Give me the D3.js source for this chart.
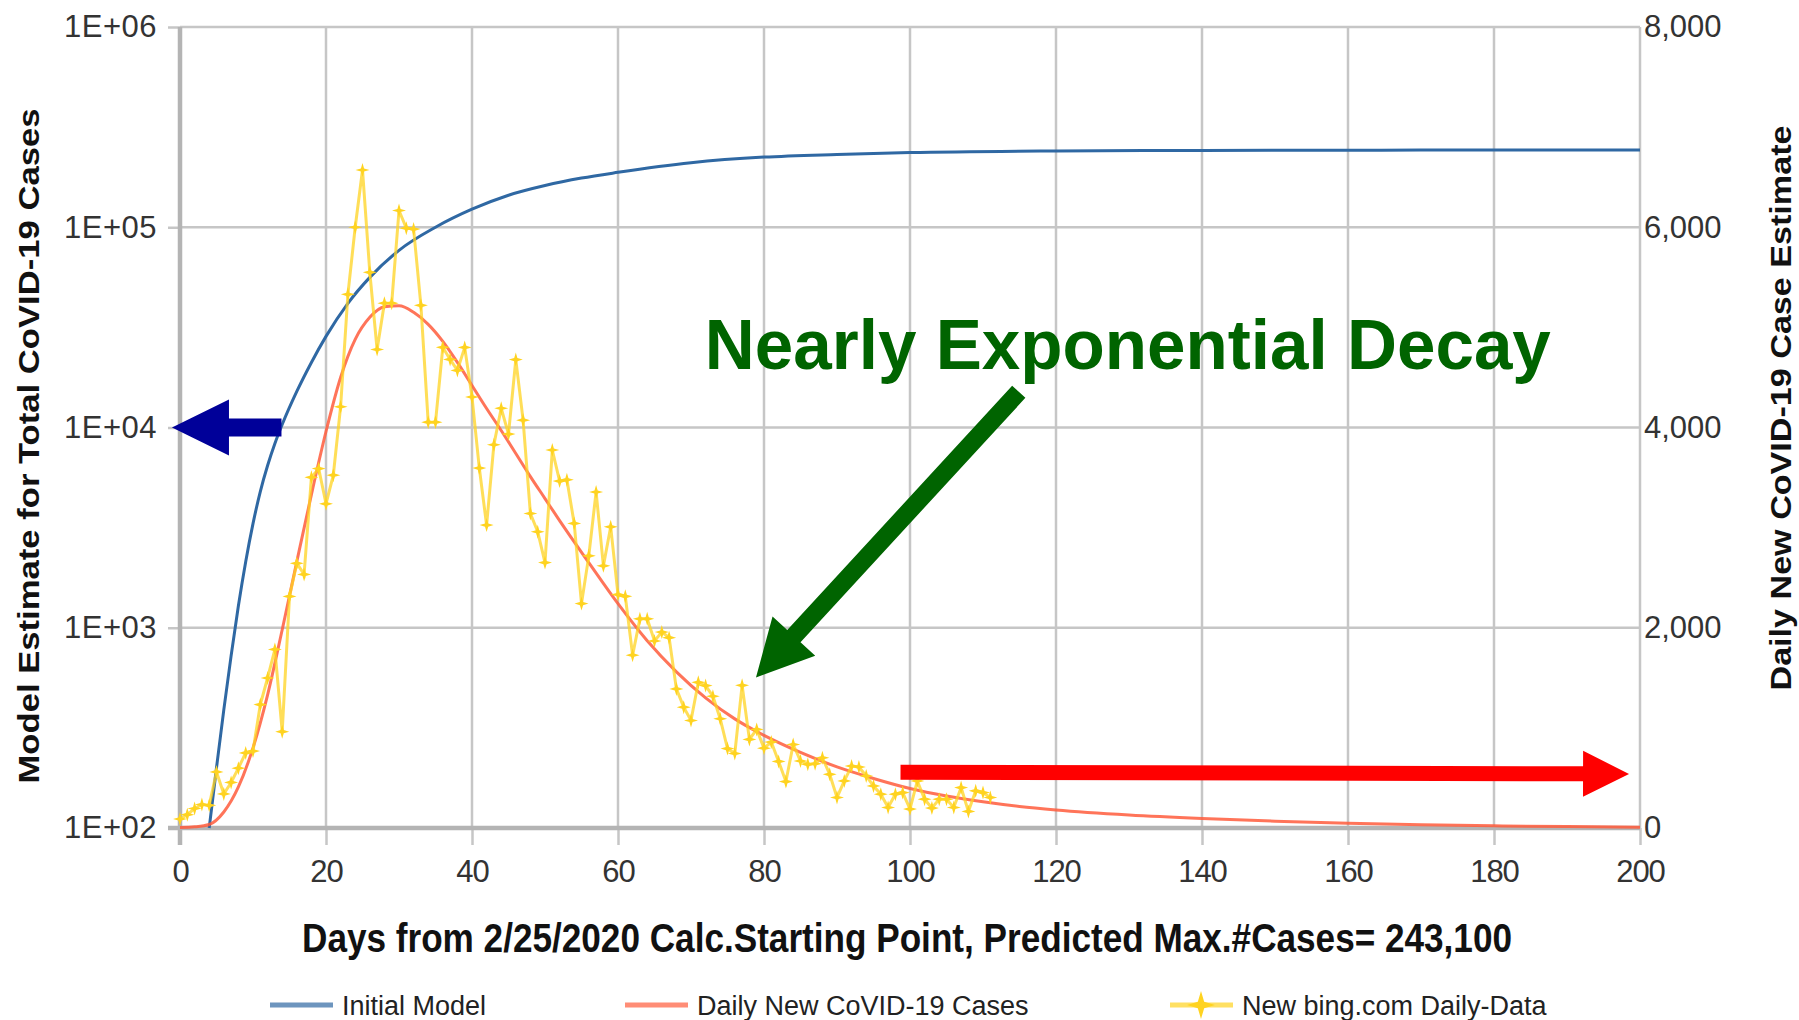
<!DOCTYPE html>
<html>
<head>
<meta charset="utf-8">
<script src="https://cdn.jsdelivr.net/npm/d3@7"></script>
<style>
  body { margin: 0; background: #fff; }
  text { font-family: 'Liberation Sans', Arial, sans-serif; }
</style>
</head>
<body>
<div id="wrapper"></div>
<script>
'use strict';

//#region DATA
// Initial model, cumulative cases (left, log axis)
const modelDays = [4, 5, 6, 7, 8, 9, 10, 11, 12, 13, 14, 16, 18, 20, 23, 26, 30, 35, 40, 45, 50, 55, 60, 70, 80, 90, 100, 120, 140, 170, 200];
const modelTotal = [100, 200, 389, 724, 1288, 2138, 3311, 4786, 6457, 8318, 10350, 15140, 21130, 28510, 41700, 56200, 76700, 100000, 123000, 144500, 161500, 176000, 188000, 210000, 224000, 231000, 236000, 240500, 242000, 242800, 243100];

// Daily new cases from the model (right axis)
const dailyDays = [0, 2, 4, 6, 8, 10, 12, 14, 16, 18, 20, 22, 24, 26, 28, 30, 32, 34, 36, 38, 40, 42, 44, 46, 48, 50, 52, 56, 60, 64, 68, 72, 76, 80, 85, 90, 95, 100, 105, 110, 115, 120, 130, 140, 150, 160, 170, 180, 190, 200];
const dailyModel = [5, 12, 35, 160, 410, 800, 1330, 1980, 2660, 3330, 3960, 4500, 4880, 5100, 5205, 5215, 5150, 5030, 4860, 4650, 4420, 4190, 3970, 3740, 3510, 3290, 3070, 2650, 2240, 1870, 1560, 1300, 1090, 925, 755, 610, 495, 395, 320, 262, 215, 180, 130, 95, 68, 48, 33, 22, 14, 8];

// New bing.com daily data, one value per day starting at day 0 (right axis)
const bingDaily = [
  90, 133, 195, 235, 226, 560, 340, 455, 598, 750,
  768, 1233, 1498, 1784, 962, 2313, 2643, 2533, 3502, 3590,
  3238, 3524, 4207, 5330, 6000, 6572, 5550, 4779, 5242, 5242,
  6167, 5991, 5982, 5220, 4053, 4053, 4801, 4680, 4570, 4800,
  4305, 3595, 3025, 3828, 4192, 3934, 4678, 4073, 3141, 2959,
  2651, 3775, 3465, 3478, 3042, 2241, 2718, 3356, 2618, 3008,
  2331, 2314, 1726, 2089, 2089, 1868, 1957, 1901, 1389, 1207,
  1074, 1455, 1422, 1316, 1091, 793, 744, 1425, 885, 985,
  797, 858, 665, 464, 834, 669, 636, 642, 702, 536,
  305, 470, 619, 609, 520, 420, 338, 205, 338, 354,
  189, 470, 288, 199, 288, 288, 205, 404, 166, 371,
  354, 305
];

const dayTicks = [0, 20, 40, 60, 80, 100, 120, 140, 160, 180, 200];
const totalTicks = [1e2, 1e3, 1e4, 1e5, 1e6];
const dailyTicks = [0, 2000, 4000, 6000, 8000];

const seriesNames = ['Initial Model', 'Daily New CoVID-19 Cases', 'New bing.com Daily-Data'];
const xTitle = 'Days from 2/25/2020 Calc.Starting Point, Predicted Max.#Cases= 243,100';
const yLeftTitle = 'Model Estimate for Total CoVID-19 Cases';
const yRightTitle = 'Daily New CoVID-19 Case Estimate';
const noteText = 'Nearly Exponential Decay';
//#endregion DATA

//#region CHART DIMENSIONS
let dimensions = {
  width: 1799,
  height: 1020,
  margin: {top: 27, right: 159, bottom: 192, left: 180}
};
dimensions.plotWidth = dimensions.width - dimensions.margin.left - dimensions.margin.right;
dimensions.plotHeight = dimensions.height - dimensions.margin.top - dimensions.margin.bottom;

const colours = {
  model: '#2f68a3',
  daily: '#ff5c3c',
  bing: '#ffd320',
  grid: '#c6c6c6',
  axis: '#b4b4b4',
  label: '#333333'
};
//#endregion CHART DIMENSIONS

//#region DRAW CANVAS
const wrapper = d3.select('#wrapper')
  .append('svg')
  .attr('width', dimensions.width)
  .attr('height', dimensions.height)
  .style('background', '#fff');

const plot = wrapper.append('g')
  .attr('transform', `translate(${dimensions.margin.left}, ${dimensions.margin.top})`);
//#endregion DRAW CANVAS

//#region SCALES
const xScale = d3.scaleLinear()
  .domain([0, 200])
  .range([0, dimensions.plotWidth]);
const yLeftScale = d3.scaleLog()
  .domain([1e2, 1e6])
  .range([dimensions.plotHeight, 0]);
const yRightScale = d3.scaleLinear()
  .domain([0, 8000])
  .range([dimensions.plotHeight, 0]);
//#endregion SCALES

//#region GRID + AXES
const grid = plot.append('g');
grid.selectAll('.vgrid').data(dayTicks).join('line')
  .attr('x1', d => xScale(d)).attr('x2', d => xScale(d))
  .attr('y1', 0).attr('y2', dimensions.plotHeight)
  .attr('stroke', colours.grid).attr('stroke-width', 2.5);
grid.selectAll('.hgrid').data(dailyTicks).join('line')
  .attr('x1', 0).attr('x2', dimensions.plotWidth)
  .attr('y1', d => yRightScale(d)).attr('y2', d => yRightScale(d))
  .attr('stroke', colours.grid).attr('stroke-width', 2.5);

const xAxis = plot.append('g')
  .attr('transform', `translate(0, ${dimensions.plotHeight})`)
  .call(d3.axisBottom(xScale).tickValues(dayTicks).tickSize(17).tickPadding(15).tickSizeOuter(0));

const yLeftAxis = plot.append('g')
  .call(d3.axisLeft(yLeftScale)
    .tickValues(totalTicks)
    .tickFormat(d => `1E+0${Math.round(Math.log10(d))}`)
    .tickSize(12).tickPadding(11).tickSizeOuter(0));

const yRightAxis = plot.append('g')
  .attr('transform', `translate(${dimensions.plotWidth}, 0)`)
  .call(d3.axisRight(yRightScale).tickValues(dailyTicks).tickFormat(d3.format(',')).tickSize(0).tickPadding(4));

[xAxis, yLeftAxis, yRightAxis].forEach(axis => {
  axis.select('.domain').remove();
  axis.selectAll('.tick line').attr('stroke', colours.grid).attr('stroke-width', 2.5);
  axis.selectAll('.tick text')
    .attr('fill', colours.label)
    .style('font-size', '31px')
    .style('font-family', "'Liberation Sans', Arial, sans-serif");
});
xAxis.selectAll('.tick text').style('letter-spacing', '-1px');
yLeftAxis.selectAll('.tick text').style('letter-spacing', '0.5px');

// darker axis lines on the left and bottom
plot.append('line')
  .attr('x1', 0).attr('x2', 0)
  .attr('y1', 0).attr('y2', dimensions.plotHeight + 17)
  .attr('stroke', colours.axis).attr('stroke-width', 4.5);
plot.append('line')
  .attr('x1', -12).attr('x2', dimensions.plotWidth)
  .attr('y1', dimensions.plotHeight).attr('y2', dimensions.plotHeight)
  .attr('stroke', colours.axis).attr('stroke-width', 4.5);
//#endregion GRID + AXES

//#region DRAW DATA
const star4 = {
  draw (context, size) {
    const r = Math.sqrt(size);
    const ri = r * 0.32;
    for (let i = 0; i < 8; i++) {
      const a = i * Math.PI / 4 - Math.PI / 2;
      const rr = i % 2 === 0 ? r : ri;
      if (i === 0) context.moveTo(rr * Math.cos(a), rr * Math.sin(a));
      else context.lineTo(rr * Math.cos(a), rr * Math.sin(a));
    }
    context.closePath();
  }
};

const modelLine = d3.line()
  .x((d, i) => xScale(modelDays[i]))
  .y(d => yLeftScale(d))
  .curve(d3.curveMonotoneX);
plot.append('path')
  .attr('d', modelLine(modelTotal))
  .attr('fill', 'none')
  .attr('stroke', colours.model)
  .attr('stroke-width', 3);

const dailyLine = d3.line()
  .x((d, i) => xScale(dailyDays[i]))
  .y(d => yRightScale(d))
  .curve(d3.curveMonotoneX);
plot.append('path')
  .attr('d', dailyLine(dailyModel))
  .attr('fill', 'none')
  .attr('stroke', colours.daily)
  .attr('stroke-opacity', 0.85)
  .attr('stroke-width', 3);

const bingLine = d3.line()
  .x((d, i) => xScale(i))
  .y(d => yRightScale(d));
plot.append('path')
  .attr('d', bingLine(bingDaily))
  .attr('fill', 'none')
  .attr('stroke', colours.bing)
  .attr('stroke-opacity', 0.75)
  .attr('stroke-width', 3);
plot.selectAll('.bing-pt').data(bingDaily).join('path')
  .attr('transform', (d, i) => `translate(${xScale(i)}, ${yRightScale(d)})`)
  .attr('d', d3.symbol(star4, 49))
  .attr('fill', colours.bing);
//#endregion DRAW DATA

//#region ANNOTATIONS
function arrowPoints (x1, y1, x2, y2, shaft, headLen, headW) {
  const len = Math.hypot(x2 - x1, y2 - y1);
  const ux = (x2 - x1) / len, uy = (y2 - y1) / len;
  const nx = -uy, ny = ux;
  const bx = x2 - ux * headLen, by = y2 - uy * headLen;
  return [
    [x1 + nx * shaft / 2, y1 + ny * shaft / 2],
    [bx + nx * shaft / 2, by + ny * shaft / 2],
    [bx + nx * headW / 2, by + ny * headW / 2],
    [x2, y2],
    [bx - nx * headW / 2, by - ny * headW / 2],
    [bx - nx * shaft / 2, by - ny * shaft / 2],
    [x1 - nx * shaft / 2, y1 - ny * shaft / 2]
  ];
}

// arrows given in chart units: days and right-axis cases
const arrows = [
  {from: [13.9, 4000], to: [-1.1, 4000], shaft: 18, head: 57, headW: 56, fill: '#000099'},
  {from: [114.9, 4357], to: [78.9, 1504], shaft: 18, head: 56, headW: 58, fill: '#006400'},
  {from: [98.7, 557], to: [198.5, 540], shaft: 15, head: 46, headW: 46, fill: '#ff0000'}
];
plot.selectAll('.arrow').data(arrows).join('polygon')
  .attr('points', d => arrowPoints(
    xScale(d.from[0]), yRightScale(d.from[1]),
    xScale(d.to[0]), yRightScale(d.to[1]),
    d.shaft, d.head, d.headW).map(p => p.join(',')).join(' '))
  .attr('fill', d => d.fill);

plot.append('text')
  .attr('x', xScale(71.9))
  .attr('y', yRightScale(4584))
  .attr('fill', '#006400')
  .style('font-size', '70px')
  .style('font-weight', 'bold')
  .attr('textLength', 846)
  .attr('lengthAdjust', 'spacingAndGlyphs')
  .text(noteText);
//#endregion ANNOTATIONS

//#region DRAW PERIPHERALS
wrapper.append('text')
  .attr('x', 907)
  .attr('y', 952)
  .attr('text-anchor', 'middle')
  .attr('fill', '#111')
  .style('font-size', '40px')
  .style('font-weight', 'bold')
  .attr('textLength', 1210)
  .attr('lengthAdjust', 'spacingAndGlyphs')
  .text(xTitle);

wrapper.append('text')
  .attr('transform', 'translate(39, 446) rotate(-90)')
  .attr('text-anchor', 'middle')
  .attr('fill', '#111')
  .style('font-size', '29px')
  .style('font-weight', 'bold')
  .attr('textLength', 675)
  .attr('lengthAdjust', 'spacingAndGlyphs')
  .text(yLeftTitle);

wrapper.append('text')
  .attr('transform', 'translate(1791, 408) rotate(-90)')
  .attr('text-anchor', 'middle')
  .attr('fill', '#111')
  .style('font-size', '29px')
  .style('font-weight', 'bold')
  .attr('textLength', 565)
  .attr('lengthAdjust', 'spacingAndGlyphs')
  .text(yRightTitle);

// legend
const legendX = [270, 625, 1170];
const legendColours = [colours.model, colours.daily, colours.bing];
const legend = wrapper.append('g').attr('transform', 'translate(0, 1005)');
const legendItems = legend.selectAll('g').data(seriesNames).join('g')
  .attr('transform', (d, i) => `translate(${legendX[i]}, 0)`);
legendItems.append('line')
  .attr('x1', 0).attr('x2', 63)
  .attr('stroke', (d, i) => legendColours[i])
  .attr('stroke-opacity', 0.7)
  .attr('stroke-width', 5);
legendItems.filter((d, i) => i === 2).append('path')
  .attr('transform', 'translate(31, 0)')
  .attr('d', d3.symbol(star4, 196))
  .attr('fill', colours.bing);
legendItems.append('text')
  .attr('x', 72)
  .attr('y', 10)
  .attr('fill', '#222')
  .style('font-size', '27px')
  .text(d => d);
//#endregion DRAW PERIPHERALS
</script>
</body>
</html>
